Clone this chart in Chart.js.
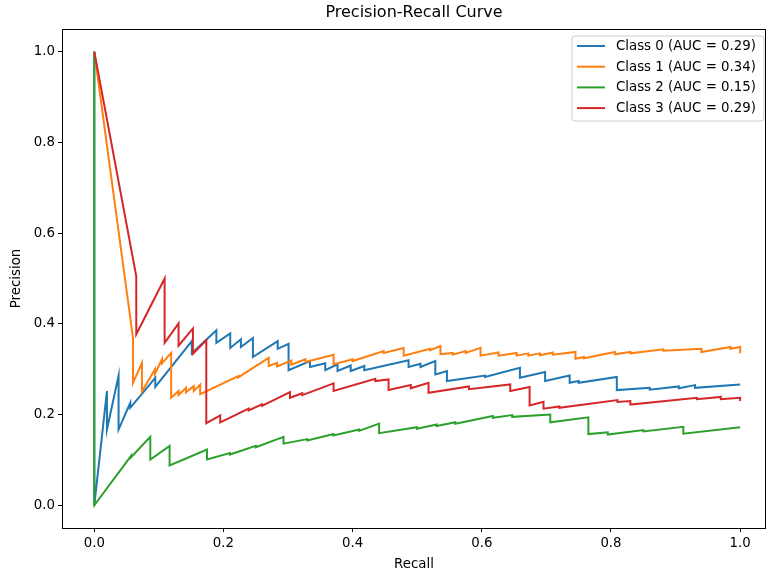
<!DOCTYPE html>
<html><head><meta charset="utf-8">
<script src="https://cdn.jsdelivr.net/npm/chart.js@4/dist/chart.umd.min.js"></script>
<style>html,body{margin:0;padding:0;background:#fff;}canvas{display:block;}</style>
</head><body>
<canvas id="c" width="766" height="575"></canvas>
<script>
const chartTitle = 'Precision-Recall Curve';
const classLabels = ['Class 0 (AUC = 0.29)', 'Class 1 (AUC = 0.34)', 'Class 2 (AUC = 0.15)', 'Class 3 (AUC = 0.29)'];
const classColors = ['#1f77b4', '#ff7f0e', '#2ca02c', '#d62728'];

const recall0 = [0,0,0.0196,0.0196,0.0376,0.0376,0.0557,0.0557,0.0944,0.0944,0.151,0.151,0.189,0.189,0.2105,0.2105,0.227,0.227,0.2456,0.2456,0.284,0.284,0.3008,0.3008,0.334,0.334,0.3576,0.3576,0.3766,0.3766,0.397,0.397,0.418,0.418,0.4866,0.4866,0.505,0.505,0.528,0.528,0.546,0.546,0.605,0.605,0.659,0.659,0.698,0.698,0.736,0.736,0.75,0.75,0.809,0.809,0.86,0.86,0.905,0.905,0.93,0.93,1.0];
const precision0 = [1,0,0.252,0.167,0.286,0.167,0.226,0.215,0.281,0.261,0.362,0.335,0.386,0.358,0.379,0.347,0.366,0.349,0.369,0.327,0.362,0.345,0.356,0.298,0.318,0.305,0.313,0.298,0.311,0.296,0.308,0.296,0.307,0.298,0.320,0.305,0.312,0.305,0.318,0.2885,0.296,0.274,0.286,0.283,0.303,0.281,0.294,0.274,0.286,0.270,0.274,0.270,0.283,0.254,0.259,0.255,0.262,0.258,0.265,0.259,0.2665];

const recall1 = [0,0.0599,0.0599,0.0738,0.0738,0.094,0.094,0.1048,0.1048,0.119,0.119,0.1305,0.1305,0.142,0.142,0.154,0.154,0.164,0.164,0.223,0.223,0.270,0.270,0.283,0.283,0.305,0.305,0.327,0.327,0.3705,0.3705,0.40,0.40,0.448,0.448,0.479,0.479,0.52,0.52,0.536,0.536,0.555,0.555,0.575,0.575,0.598,0.598,0.626,0.626,0.654,0.654,0.672,0.672,0.69,0.69,0.71,0.71,0.745,0.745,0.758,0.758,0.806,0.806,0.83,0.83,0.881,0.881,0.94,0.94,0.985,0.985,1.0,1.0];
const precision1 = [1,0.369,0.270,0.314,0.251,0.30,0.29,0.322,0.313,0.336,0.237,0.252,0.243,0.259,0.249,0.263,0.252,0.266,0.245,0.285,0.282,0.325,0.307,0.314,0.306,0.319,0.310,0.322,0.316,0.332,0.311,0.322,0.318,0.340,0.336,0.347,0.330,0.345,0.342,0.351,0.333,0.336,0.332,0.340,0.336,0.347,0.330,0.337,0.330,0.336,0.330,0.335,0.330,0.335,0.331,0.337,0.332,0.338,0.323,0.327,0.324,0.338,0.333,0.338,0.335,0.344,0.341,0.345,0.338,0.349,0.345,0.349,0.335];

const recall2 = [0,0,0.057,0.057,0.0867,0.0867,0.1166,0.1166,0.1745,0.1745,0.21,0.21,0.25,0.25,0.293,0.293,0.33,0.33,0.37,0.37,0.41,0.41,0.441,0.441,0.4995,0.4995,0.530,0.530,0.559,0.559,0.617,0.617,0.647,0.647,0.706,0.706,0.765,0.765,0.795,0.795,0.85,0.85,0.912,0.912,1.0];
const precision2 = [1,0,0.109,0.106,0.151,0.101,0.131,0.088,0.123,0.101,0.115,0.112,0.131,0.128,0.151,0.136,0.146,0.143,0.157,0.154,0.167,0.164,0.180,0.159,0.172,0.169,0.178,0.175,0.183,0.180,0.197,0.193,0.199,0.195,0.200,0.183,0.194,0.157,0.161,0.156,0.166,0.163,0.173,0.158,0.172];

const recall3 = [0,0.065,0.065,0.1089,0.1089,0.1305,0.1305,0.1527,0.1527,0.1734,0.1734,0.195,0.195,0.239,0.239,0.2596,0.2596,0.303,0.303,0.322,0.322,0.3705,0.3705,0.435,0.435,0.4556,0.4556,0.49,0.49,0.5175,0.5175,0.58,0.58,0.644,0.644,0.674,0.674,0.6955,0.6955,0.72,0.72,0.81,0.81,0.83,0.83,0.933,0.933,0.97,0.97,1.0,1.0];
const precision3 = [1,0.505,0.377,0.500,0.358,0.401,0.352,0.390,0.334,0.364,0.181,0.198,0.183,0.213,0.209,0.2225,0.219,0.2495,0.237,0.247,0.243,0.2687,0.252,0.279,0.274,0.2775,0.254,0.265,0.258,0.270,0.248,0.262,0.256,0.2665,0.252,0.261,0.220,0.228,0.213,0.218,0.215,0.232,0.228,0.23,0.222,0.237,0.234,0.239,0.234,0.237,0.23];

const xTicks = [0.0, 0.2, 0.4, 0.6, 0.8, 1.0];
const yTicks = [0.0, 0.2, 0.4, 0.6, 0.8, 1.0];
const xLabel = 'Recall';
const yLabel = 'Precision';

const recalls = [recall0, recall1, recall2, recall3];
const precisions = [precision0, precision1, precision2, precision3];

const FONT = '"DejaVu Sans", sans-serif';

const datasets = classLabels.map((lab, i) => ({
  label: lab,
  data: recalls[i].map((r, k) => ({x: r, y: precisions[i][k]})),
  borderColor: classColors[i],
  backgroundColor: classColors[i],
  borderWidth: 2,
  pointRadius: 0,
  tension: 0,
  fill: false,
  order: classLabels.length - 1 - i
}));

const decorPlugin = {
  id: 'decor',
  afterDraw(chart) {
    const ctx = chart.ctx;
    const a = chart.chartArea;
    ctx.save();
    ctx.strokeStyle = '#000';
    ctx.lineWidth = 1;
    ctx.strokeRect(Math.round(a.left) + 0.5, Math.round(a.top) + 0.5, Math.round(a.right - a.left) - 1, Math.round(a.bottom - a.top));
    ctx.fillStyle = '#000';
    ctx.font = '16px ' + FONT;
    ctx.textAlign = 'center';
    ctx.textBaseline = 'middle';
    ctx.fillText(chartTitle, (a.left + a.right) / 2, 13);
    const bx = 572, by = 36, bw = 192, bh = 85, r = 3;
    ctx.beginPath();
    ctx.moveTo(bx + r, by);
    ctx.lineTo(bx + bw - r, by);
    ctx.arcTo(bx + bw, by, bx + bw, by + r, r);
    ctx.lineTo(bx + bw, by + bh - r);
    ctx.arcTo(bx + bw, by + bh, bx + bw - r, by + bh, r);
    ctx.lineTo(bx + r, by + bh);
    ctx.arcTo(bx, by + bh, bx, by + bh - r, r);
    ctx.lineTo(bx, by + r);
    ctx.arcTo(bx, by, bx + r, by, r);
    ctx.closePath();
    ctx.fillStyle = 'rgba(255,255,255,0.8)';
    ctx.fill();
    ctx.strokeStyle = '#cccccc';
    ctx.lineWidth = 1;
    ctx.stroke();
    ctx.font = '13.33px ' + FONT;
    ctx.textAlign = 'left';
    ctx.textBaseline = 'middle';
    chart.data.datasets.forEach((ds, i) => {
      const y = 46 + i * 20.7;
      ctx.strokeStyle = ds.borderColor;
      ctx.lineWidth = 2;
      ctx.beginPath();
      ctx.moveTo(577, y);
      ctx.lineTo(605, y);
      ctx.stroke();
      ctx.fillStyle = '#000';
      ctx.fillText(ds.label, 616, y + 0.5);
    });
    ctx.restore();
  }
};

new Chart(document.getElementById('c'), {
  type: 'line',
  data: { datasets },
  plugins: [decorPlugin],
  options: {
    responsive: false,
    animation: false,
    devicePixelRatio: 1,
    layout: { padding: { top: 29, right: 0, bottom: 0, left: 0 } },
    plugins: { legend: { display: false }, title: { display: false }, tooltip: { enabled: false } },
    scales: {
      x: {
        type: 'linear',
        min: -0.05, max: 1.04,
        afterBuildTicks: s => { s.ticks = xTicks.map(v => ({value: v})); },
        afterFit: s => { s.height = 47; },
        grid: { drawOnChartArea: false, drawTicks: true, tickLength: 4, color: '#000' },
        border: { display: false },
        ticks: { color: '#000', font: { family: FONT, size: 13.33 }, padding: 4, maxRotation: 0,
                 callback: v => Number(v).toFixed(1) },
        title: { display: true, text: xLabel, color: '#000', font: { family: FONT, size: 13.33 }, padding: { top: 0, bottom: 2 } }
      },
      y: {
        type: 'linear',
        min: -0.05, max: 1.05,
        afterBuildTicks: s => { s.ticks = yTicks.map(v => ({value: v})); },
        afterFit: s => { s.width = 62; },
        grid: { drawOnChartArea: false, drawTicks: true, tickLength: 4, color: '#000' },
        border: { display: false },
        ticks: { color: '#000', font: { family: FONT, size: 13.33 }, padding: 3,
                 callback: v => Number(v).toFixed(1) },
        title: { display: true, text: yLabel, color: '#000', font: { family: FONT, size: 13.33 }, padding: { top: 9, bottom: 0 } }
      }
    }
  }
});
</script>
</body></html>
